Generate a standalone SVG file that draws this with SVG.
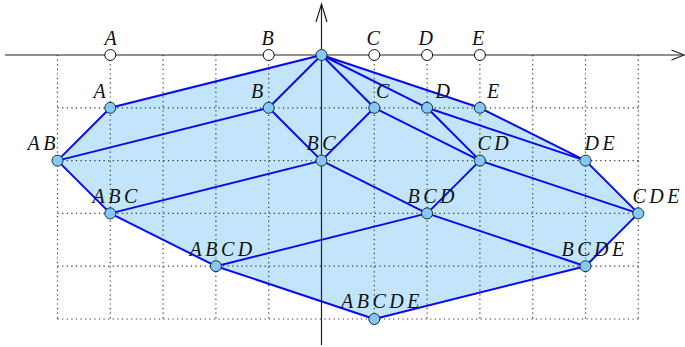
<svg xmlns="http://www.w3.org/2000/svg" width="685" height="347" viewBox="0 0 685 347">
<style>
.grid{stroke:#333;stroke-width:1.2;stroke-dasharray:1.2 3.4;fill:none}
.axis{stroke:#222;stroke-width:1.2;fill:none}
.edge{stroke:#0a0aee;stroke-width:2;fill:none;stroke-linecap:round}
.node{fill:#84c9f5;stroke:#1b2f3f;stroke-width:1}
.pt{fill:#fff;stroke:#111;stroke-width:1}
text{font-family:"Liberation Serif","Times New Roman",serif;font-style:italic;font-size:20px;letter-spacing:3.5px;fill:#111}
</style>
<rect width="685" height="347" fill="#fff"/>
<polygon points="321.5,55 479.9,107.8 585.5,160.6 638.3,213.4 585.5,266.2 374.3,319 215.9,266.2 110.3,213.4 57.5,160.6 110.3,107.8" fill="#c2e5fb"/>
<g id="grid">
<path class="grid" d="M57.5 55V319M110.3 55V319M163.1 55V319M215.9 55V319M268.7 55V319M374.3 55V319M427.1 55V319M479.9 55V319M532.7 55V319M585.5 55V319M638.3 55V319"/>
<path class="grid" d="M57.5 107.8H638.3M57.5 160.6H638.3M57.5 213.4H638.3M57.5 266.2H638.3M57.5 319H638.3"/>
</g>
<g id="axes">
<line class="axis" x1="5" y1="55" x2="684" y2="55"/>
<line class="axis" x1="321.5" y1="345" x2="321.5" y2="4"/>
<polyline class="axis" points="316,22 321.5,4 327,22"/>
<polyline class="axis" points="671.5,50 684,55 671.5,60"/>
</g>
<g id="connectors">
<path class="edge" d="M321.5 55L110.3 107.8M321.5 55L268.7 107.8M321.5 55L374.3 107.8M321.5 55L427.1 107.8M321.5 55L479.9 107.8"/>
<path class="edge" d="M110.3 107.8L57.5 160.6M268.7 107.8L57.5 160.6M268.7 107.8L321.5 160.6M374.3 107.8L321.5 160.6M374.3 107.8L479.9 160.6M427.1 107.8L479.9 160.6M427.1 107.8L585.5 160.6M479.9 107.8L585.5 160.6"/>
<path class="edge" d="M57.5 160.6L110.3 213.4M321.5 160.6L110.3 213.4M321.5 160.6L427.1 213.4M479.9 160.6L427.1 213.4M479.9 160.6L638.3 213.4M585.5 160.6L638.3 213.4"/>
<path class="edge" d="M110.3 213.4L215.9 266.2M427.1 213.4L215.9 266.2M427.1 213.4L585.5 266.2M638.3 213.4L585.5 266.2"/>
<path class="edge" d="M215.9 266.2L374.3 319M585.5 266.2L374.3 319"/>
</g>
<g id="axis-points">
<circle class="pt" cx="110.3" cy="55" r="5.5"/><text x="104.5" y="45">A</text>
<circle class="pt" cx="268.7" cy="55" r="5.5"/><text x="261.5" y="45">B</text>
<circle class="pt" cx="374.3" cy="55" r="5.5"/><text x="366.5" y="45">C</text>
<circle class="pt" cx="427.1" cy="55" r="5.5"/><text x="418.5" y="45">D</text>
<circle class="pt" cx="479.9" cy="55" r="5.5"/><text x="472" y="45">E</text>
</g>
<g id="n-empty"><circle class="node" cx="321.5" cy="55" r="5.5"/></g>
<g id="n-A"><circle class="node" cx="110.3" cy="107.8" r="5.5"/><text x="93.5" y="98">A</text></g>
<g id="n-B"><circle class="node" cx="268.7" cy="107.8" r="5.5"/><text x="251" y="98">B</text></g>
<g id="n-C"><circle class="node" cx="374.3" cy="107.8" r="5.5"/><text x="376" y="98">C</text></g>
<g id="n-D"><circle class="node" cx="427.1" cy="107.8" r="5.5"/><text x="435.5" y="98">D</text></g>
<g id="n-E"><circle class="node" cx="479.9" cy="107.8" r="5.5"/><text x="487" y="98">E</text></g>
<g id="n-AB"><circle class="node" cx="57.5" cy="160.6" r="5.5"/><text x="27.5" y="150">AB</text></g>
<g id="n-BC"><circle class="node" cx="321.5" cy="160.6" r="5.5"/><text x="306.5" y="150">BC</text></g>
<g id="n-CD"><circle class="node" cx="479.9" cy="160.6" r="5.5"/><text x="477.5" y="150">CD</text></g>
<g id="n-DE"><circle class="node" cx="585.5" cy="160.6" r="5.5"/><text x="584.5" y="150">DE</text></g>
<g id="n-ABC"><circle class="node" cx="110.3" cy="213.4" r="5.5"/><text x="92.5" y="203">ABC</text></g>
<g id="n-BCD"><circle class="node" cx="427.1" cy="213.4" r="5.5"/><text x="407.5" y="202.5">BCD</text></g>
<g id="n-CDE"><circle class="node" cx="638.3" cy="213.4" r="5.5"/><text x="632.5" y="202.5">CDE</text></g>
<g id="n-ABCD"><circle class="node" cx="215.9" cy="266.2" r="5.5"/><text x="189.5" y="256">ABCD</text></g>
<g id="n-BCDE"><circle class="node" cx="585.5" cy="266.2" r="5.5"/><text x="561.5" y="256">BCDE</text></g>
<g id="n-ABCDE"><circle class="node" cx="374.3" cy="319" r="5.5"/><text x="341" y="308">ABCDE</text></g>
</svg>
